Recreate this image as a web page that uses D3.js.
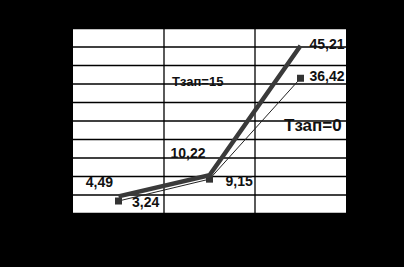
<!DOCTYPE html>
<html>
<head>
<meta charset="utf-8">
<script src="https://cdn.jsdelivr.net/npm/d3@7"></script>
<style>
  body { margin: 0; background: #000; }
  svg { display: block; font-family: "Liberation Sans", Arial, sans-serif; font-weight: bold; }
</style>
</head>
<body>
<div class="chart"></div>
<script>
// data
var categories = ["1", "2", "3"];
var seriesNames = ["Тзап=15", "Тзап=0"];
var values15 = [4.49, 10.22, 45.21];
var values0 = [3.24, 9.15, 36.42];
var labels15 = ["4,49", "10,22", "45,21"];
var labels0 = ["3,24", "9,15", "36,42"];
var yTicks = [0, 5, 10, 15, 20, 25, 30, 35, 40, 45, 50];

var svgWidth = 404;
var svgHeight = 267;
var margin = { top: 28, right: 58, bottom: 54, left: 73 };
var width = svgWidth - margin.left - margin.right;
var height = svgHeight - margin.top - margin.bottom;

var svg = d3.select(".chart")
  .append("svg")
  .attr("width", svgWidth)
  .attr("height", svgHeight);

svg.append("rect")
  .attr("width", svgWidth)
  .attr("height", svgHeight)
  .attr("fill", "#000");

var chartGroup = svg.append("g")
  .attr("transform", `translate(${margin.left}, ${margin.top})`);

chartGroup.append("rect")
  .attr("width", width)
  .attr("height", height)
  .attr("fill", "#fff");

var xScale = d3.scaleBand()
  .domain(categories)
  .range([0, width]);

var yScale = d3.scaleLinear()
  .domain([0, 50])
  .range([height, 0]);

// horizontal grid
var leftAxis = d3.axisLeft(yScale).tickValues(yTicks).tickSize(-width).tickFormat("");
chartGroup.append("g")
  .call(leftAxis)
  .call(g => g.select(".domain").remove())
  .selectAll("line")
  .attr("stroke", "#000")
  .attr("stroke-width", 1.3);

// vertical grid between categories
chartGroup.selectAll(".vgrid")
  .data(categories.slice(1))
  .enter()
  .append("line")
  .attr("x1", d => xScale(d))
  .attr("x2", d => xScale(d))
  .attr("y1", 0)
  .attr("y2", height)
  .attr("stroke", "#000")
  .attr("stroke-width", 1.3);

var xc = (d, i) => xScale(categories[i]) + xScale.bandwidth() / 2;

// thin line, Тзап=0
chartGroup.append("path")
  .datum(values0)
  .attr("fill", "none")
  .attr("stroke", "#222")
  .attr("stroke-width", 1)
  .attr("d", d3.line().x(xc).y(d => yScale(d)));

chartGroup.selectAll(".sq")
  .data(values0)
  .enter()
  .append("rect")
  .attr("x", (d, i) => xc(d, i) - 3.5)
  .attr("y", d => yScale(d) - 3.5)
  .attr("width", 7)
  .attr("height", 7)
  .attr("fill", "#333");

// thick line, Тзап=15
chartGroup.append("path")
  .datum(values15)
  .attr("fill", "none")
  .attr("stroke", "#3a3a3a")
  .attr("stroke-width", 4.5)
  .attr("d", d3.line().x(xc).y(d => yScale(d)));

// value labels
var off15 = [[-5.5, -9.5, "end"], [-4, -17.5, "end"], [9, 3, "start"]];
var off0 = [[13.5, 6, "start"], [16, 6.6, "start"], [9, 3, "start"]];

chartGroup.selectAll(".lab15")
  .data(values15)
  .enter()
  .append("text")
  .attr("x", (d, i) => xc(d, i) + off15[i][0])
  .attr("y", (d, i) => yScale(d) + off15[i][1])
  .attr("text-anchor", (d, i) => off15[i][2])
  .attr("font-size", 14)
  .attr("fill", "#111")
  .text((d, i) => labels15[i]);

chartGroup.selectAll(".lab0")
  .data(values0)
  .enter()
  .append("text")
  .attr("x", (d, i) => xc(d, i) + off0[i][0])
  .attr("y", (d, i) => yScale(d) + off0[i][1])
  .attr("text-anchor", (d, i) => off0[i][2])
  .attr("font-size", 14)
  .attr("fill", "#111")
  .text((d, i) => labels0[i]);

// series names
chartGroup.append("text")
  .attr("x", 172 - margin.left)
  .attr("y", 86 - margin.top)
  .attr("font-size", 13)
  .attr("fill", "#111")
  .text(seriesNames[0]);

chartGroup.append("text")
  .attr("x", 284 - margin.left)
  .attr("y", 131 - margin.top)
  .attr("font-size", 17)
  .attr("fill", "#111")
  .text(seriesNames[1]);
</script>
</body>
</html>
